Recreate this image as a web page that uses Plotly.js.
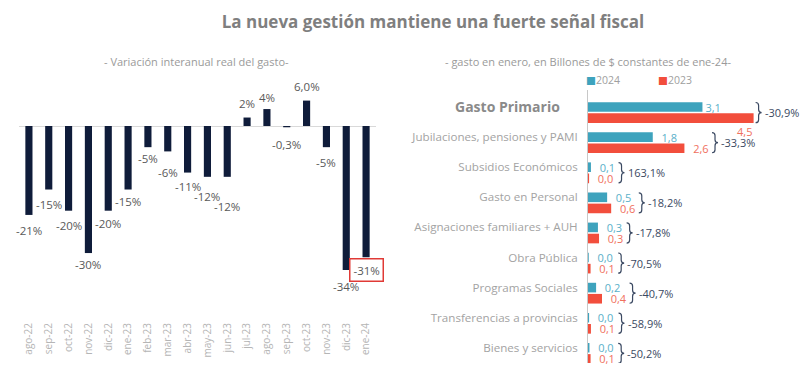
<!DOCTYPE html>
<html>
<head>
<meta charset="utf-8">
<script src="https://cdn.plot.ly/plotly-3.0.1.min.js"></script>
<style>html,body{margin:0;padding:0;background:#fff;}#chart{width:800px;height:390px;}</style>
</head>
<body>
<div id="chart"></div>
<script>
// ---- Left chart data ----
const months = ['ago-22','sep-22','oct-22','nov-22','dic-22','ene-23','feb-23','mar-23','abr-23','may-23','jun-23','jul-23','ago-23','sep-23','oct-23','nov-23','dic-23','ene-24'];
const varReal = [-21,-15,-20,-30,-20,-15,-5,-6,-11,-12,-12,2,4,-0.3,6.0,-5,-34,-31];
const varLabels = ['-21%','-15%','-20%','-30%','-20%','-15%','-5%','-6%','-11%','-12%','-12%','2%','4%','-0,3%','6,0%','-5%','-34%','-31%'];

// ---- Right chart data ----
const rubros = ['Gasto Primario','Jubilaciones, pensiones y PAMI','Subsidios Económicos','Gasto en Personal','Asignaciones familiares + AUH','Obra Pública','Programas Sociales','Transferencias a provincias','Bienes y servicios'];
const gasto2024 = [3.11,1.76,0.08,0.52,0.27,0.02,0.22,0.03,0.04];
const gasto2023 = [4.50,2.62,0.03,0.63,0.30,0.07,0.38,0.08,0.07];
const variacion = ['-30,9%','-33,3%','163,1%','-18,2%','-17,8%','-70,5%','-40,7%','-58,9%','-50,2%'];

// ---- presentation settings (label distance from bar end, px) ----
const labelGap = [16,15,15,11,13,12,11,21,14,20,30,14,12,17,14,15,17,13];

const FONT = 'Open Sans, sans-serif';
const NAVY = '#0f1c3a', BLUE = '#3ea3bd', RED = '#f24e3c';
const BLUE_T = '#5ab0c9', RED_T = '#f0705e', DARK_T = '#3b4962';

const idx = rubros.map((_, i) => i);
const RED_OFF = 0.37;
const NB = '\u00a0\u00a0';

const traces = [
  {type:'bar', x: months, y: varReal, marker:{color:NAVY}, width:0.36,
   xaxis:'x', yaxis:'y', showlegend:false, hoverinfo:'skip'},
  {type:'bar', orientation:'h', name:'2024', x: gasto2024, y: idx,
   width:0.32, marker:{color:BLUE}, xaxis:'x2', yaxis:'y2', showlegend:false,
   texttemplate: idx.map(i => (i === 0 ? '' : NB) + '%{x:.1f}'), textposition:'outside', cliponaxis:false, constraintext:'none',
   textfont:{color:BLUE_T, size:11, family:FONT}, hoverinfo:'skip'},
  {type:'bar', orientation:'h', name:'2023', x: gasto2023, y: idx.map(i => i + RED_OFF),
   width:0.32, marker:{color:RED}, xaxis:'x2', yaxis:'y2', showlegend:false,
   texttemplate: NB + '%{x:.1f}', textposition: idx.map(i => i === 0 ? 'none' : 'outside'), cliponaxis:false,
   constraintext:'none',
   textfont:{color:RED_T, size:11, family:FONT}, hoverinfo:'skip'}
];

const annotations = [];
const shapes = [];
// left value labels
varReal.forEach((v, i) => {
  const last = i === varReal.length - 1;
  annotations.push({
    x: months[i], y: v, xref:'x', yref:'y', text: varLabels[i], showarrow:false,
    yshift: v < 0 ? -labelGap[i] : labelGap[i],
    font:{family:FONT, size:11.5, color:'#595959'},
    bordercolor: last ? '#e03a36' : 'rgba(0,0,0,0)', borderwidth: last ? 1.5 : 0, borderpad: 3
  });
});
// right: Gasto primario 2023 label
annotations.push({x: gasto2023[0], y: RED_OFF, xref:'x2', yref:'y2', text:'4,5', showarrow:false,
  xanchor:'right', yshift:-13, font:{family:FONT, size:11, color:RED_T}});
// right: Gasto primario category label (emphasised)
annotations.push({x: 0, y: 0, xref:'x2', yref:'y2', text:'<b>' + rubros[0] + '</b>', showarrow:false,
  xanchor:'right', xshift:-26, font:{family:FONT, size:14, color:'#8a8a8a'}});

// brackets
const PX = 1/36.8, PY = 1/30.1;
idx.forEach(i => {
  const mx = Math.max(gasto2024[i], gasto2023[i]);
  const x0 = i === 0 ? mx + 2*PX : mx + 0.75;
  const yt = i - 0.15, yb = i + RED_OFF + 0.15, ym = (yt + yb) / 2;
  const xv = x0 + 3*PX, xt = x0 + 6*PX;
  const path = `M ${x0},${yt} Q ${xv},${yt} ${xv},${yt+3*PY} L ${xv},${ym-3*PY} Q ${xv},${ym} ${xt},${ym} ` +
               `Q ${xv},${ym} ${xv},${ym+3*PY} L ${xv},${yb-3*PY} Q ${xv},${yb} ${x0},${yb}`;
  shapes.push({type:'path', xref:'x2', yref:'y2', path, line:{color:DARK_T, width:1.2}});
  annotations.push({x: xt, y: ym, xref:'x2', yref:'y2', text: variacion[i], showarrow:false,
    xanchor:'left', xshift:1, font:{family:FONT, size:11, color:DARK_T}});
});

// subtitles
annotations.push({x:196/800, y:1-62/390, xref:'paper', yref:'paper', showarrow:false, xanchor:'center', yanchor:'middle',
  text:'- Variación interanual real del gasto-', font:{family:FONT, size:11, color:'#9a9a9a'}});
annotations.push({x:588/800, y:1-62/390, xref:'paper', yref:'paper', showarrow:false, xanchor:'center', yanchor:'middle',
  text:'- gasto en enero, en Billones de $ constantes de ene-24-', font:{family:FONT, size:11, color:'#9a9a9a'}});

// legend (compact, as in the reference)
[['2024', BLUE, 584], ['2023', RED, 656]].forEach(([name, col, px]) => {
  annotations.push({x:px/800, y:1-80/390, xref:'paper', yref:'paper', showarrow:false, xanchor:'left', yanchor:'middle',
    text:'<span style="color:' + col + ';font-family:DejaVu Sans">■</span>' + name,
    font:{family:FONT, size:10.5, color:'#a0a0a0'}});
});

const tickText = rubros.map((r, i) => i === 0 ? '' : r);

const layout = {
  width:800, height:390, margin:{l:0, r:0, t:0, b:0},
  paper_bgcolor:'#fff', plot_bgcolor:'#fff',
  separators:',.',
  font:{family:FONT},
  title:{text:'<b>La nueva gestión mantiene una fuerte señal fiscal</b>', x:433/800, xanchor:'center',
         y:1-22/390, yanchor:'middle', yref:'container', font:{family:FONT, size:17, color:'#7f7f7f'}},
  showlegend:false,
  bargap:0.6,
  xaxis:{domain:[19/800, 376/800], type:'category', range:[-0.5, months.length - 0.5], autorange:false,
         tickangle:-90, showgrid:false, showline:false, automargin:false,
         ticks:'', tickfont:{family:FONT, size:10, color:'#b5b5b5'}, anchor:'y', fixedrange:true},
  yaxis:{domain:[70/390, 310/390], range:[-(320-126)/4.235, (126-80)/4.235], showgrid:false, showticklabels:false,
         zeroline:true, zerolinecolor:'#d9d9d9', zerolinewidth:1, anchor:'x'},
  xaxis2:{domain:[588/800, 792/800], range:[0, 204/36.8], showgrid:false, showticklabels:false,
          zeroline:false, showline:false, anchor:'y2'},
  yaxis2:{domain:[27/390, 300/390], range:[(363-107)/30.1, (90-107)/30.1], tickvals: idx, ticktext: tickText,
          showgrid:false, zeroline:false, showline:true, linecolor:'#c8c8c8', linewidth:1, ticks:'',
          ticklabelstandoff:7, tickfont:{family:FONT, size:11.6, color:'#a3a3a3'}, anchor:'x2'},
  shapes, annotations
};

Plotly.newPlot('chart', traces, layout, {displayModeBar:false, staticPlot:true});
</script>
</body>
</html>
